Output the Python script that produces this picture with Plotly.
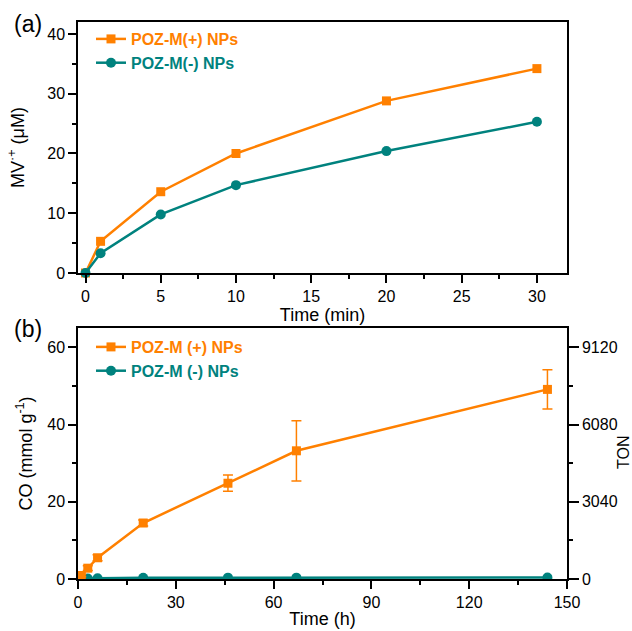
import plotly.graph_objects as go

# ---------------- data ----------------
# panel (a)
time_min = [0, 1, 5, 10, 20, 30]
mv_pos = [0.0, 5.3, 13.6, 20.0, 28.8, 34.2]
mv_neg = [0.0, 3.3, 9.8, 14.7, 20.4, 25.3]

# panel (b)
time_h = [1, 3, 6, 20, 46, 67, 144]
co_pos = [0.9, 2.8, 5.5, 14.5, 24.8, 33.2, 49.1]
co_pos_err = [0.3, 0.6, 0.8, 0.8, 2.1, 7.8, 5.1]
co_neg = [0.1, 0.15, 0.2, 0.3, 0.35, 0.35, 0.4]

ton_ticks = [0, 3040, 6080, 9120]
ton_per_co = 152  # 9120 TON == 60 mmol/g

ORANGE = "#FF8000"
TEAL = "#00827E"
FONT = "Arial, Liberation Sans, sans-serif"

W, H = 632, 631


def px_x(p):
    return p / W


def px_y(p):
    return 1 - p / H


fig = go.Figure()

fig.add_trace(go.Scatter(
    x=time_min, y=mv_pos, mode="lines+markers",
    name="<b><span style='color:%s'>POZ-M(+) NPs</span></b>" % ORANGE,
    line=dict(color=ORANGE, width=2.5),
    marker=dict(symbol="square", size=9, color=ORANGE),
    xaxis="x", yaxis="y", legend="legend", cliponaxis=False))
fig.add_trace(go.Scatter(
    x=time_min, y=mv_neg, mode="lines+markers",
    name="<b><span style='color:%s'>POZ-M(-) NPs</span></b>" % TEAL,
    line=dict(color=TEAL, width=2.5),
    marker=dict(symbol="circle", size=10, color=TEAL),
    xaxis="x", yaxis="y", legend="legend", cliponaxis=False))

fig.add_trace(go.Scatter(
    x=time_h, y=co_neg, mode="lines+markers",
    name="<b><span style='color:%s'>POZ-M (-) NPs</span></b>" % TEAL,
    line=dict(color=TEAL, width=2.5),
    marker=dict(symbol="circle", size=10, color=TEAL),
    xaxis="x2", yaxis="y2", legend="legend2", cliponaxis=True))
fig.add_trace(go.Scatter(
    x=time_h, y=co_pos, mode="lines+markers",
    name="<b><span style='color:%s'>POZ-M (+) NPs</span></b>" % ORANGE,
    line=dict(color=ORANGE, width=2.5),
    marker=dict(symbol="square", size=9, color=ORANGE),
    error_y=dict(type="data", array=co_pos_err, visible=True,
                 color=ORANGE, thickness=1.5, width=5),
    xaxis="x2", yaxis="y2", legend="legend2", cliponaxis=False))
# invisible trace to activate the TON axis
fig.add_trace(go.Scatter(
    x=[time_h[0]], y=[co_pos[0] * ton_per_co], mode="markers",
    marker=dict(opacity=0), showlegend=False, hoverinfo="skip",
    xaxis="x2", yaxis="y3"))

axis_common = dict(
    showline=True, linecolor="black", linewidth=1.5,
    ticks="outside", tickcolor="black", tickwidth=1.5, ticklen=8,
    showgrid=False, zeroline=False, automargin=False,
    tickfont=dict(family=FONT, size=16, color="black"),
    title_font=dict(family=FONT, size=18, color="black"),
)
minor_common = dict(ticks="outside", ticklen=4, tickwidth=1.5, tickcolor="black", showgrid=False)

xdom = [px_x(78), px_x(567)]

fig.update_layout(
    width=W, height=H,
    margin=dict(l=0, r=0, t=0, b=0),
    paper_bgcolor="white", plot_bgcolor="white",
    font=dict(family=FONT, size=16, color="black"),
    showlegend=True,
    xaxis=dict(axis_common, domain=xdom, range=[-0.5, 32], tickvals=[0, 5, 10, 15, 20, 25, 30],
               minor=dict(minor_common, dtick=2.5, tick0=0), mirror=True, anchor="y",
               title=dict(text="Time (min)", standoff=2)),
    yaxis=dict(axis_common, domain=[px_y(273), px_y(22)], range=[0, 42], tickvals=[0, 10, 20, 30, 40],
               minor=dict(minor_common, dtick=5, tick0=0), mirror=True, anchor="x",
               title=dict(text="MV<sup>·+</sup> (μM)", standoff=18)),
    xaxis2=dict(axis_common, domain=xdom, range=[0, 150], tickvals=[0, 30, 60, 90, 120, 150],
                minor=dict(minor_common, dtick=15, tick0=0), mirror=True, anchor="y2",
                title=dict(text="Time (h)", standoff=2)),
    yaxis2=dict(axis_common, domain=[px_y(579), px_y(328)], range=[0, 65], tickvals=[0, 20, 40, 60],
                minor=dict(minor_common, dtick=10, tick0=0), mirror=True, anchor="x2",
                title=dict(text="CO (mmol g<sup>-1</sup>)", standoff=10)),
    yaxis3=dict(axis_common, overlaying="y2", side="right", anchor="x2",
                range=[0, 65 * ton_per_co], tickvals=ton_ticks, ticklen=10,
                minor=dict(minor_common, dtick=1520, tick0=0)),
    legend=dict(x=px_x(91), y=px_y(22), xanchor="left", yanchor="top",
                bgcolor="rgba(0,0,0,0)", font=dict(family=FONT, size=16),
                tracegroupgap=0),
    legend2=dict(x=px_x(91), y=px_y(330), xanchor="left", yanchor="top",
                 bgcolor="rgba(0,0,0,0)", font=dict(family=FONT, size=16),
                 traceorder="reversed", tracegroupgap=0),
    annotations=[
        dict(text="(a)", x=px_x(28), y=px_y(24), xref="paper", yref="paper",
             xanchor="center", yanchor="middle",
             showarrow=False, font=dict(family=FONT, size=23, color="black")),
        dict(text="(b)", x=px_x(28), y=px_y(329), xref="paper", yref="paper",
             xanchor="center", yanchor="middle",
             showarrow=False, font=dict(family=FONT, size=23, color="black")),
        dict(text="TON", x=px_x(623), y=px_y(453), xref="paper", yref="paper",
             xanchor="center", yanchor="middle", textangle=-90,
             showarrow=False, font=dict(family=FONT, size=16, color="black")),
    ],
)

# remove the default page margin so the figure fills the window exactly
fig.write_html("out.html", config={"displayModeBar": False},
               post_script="document.body.style.margin='0';")
